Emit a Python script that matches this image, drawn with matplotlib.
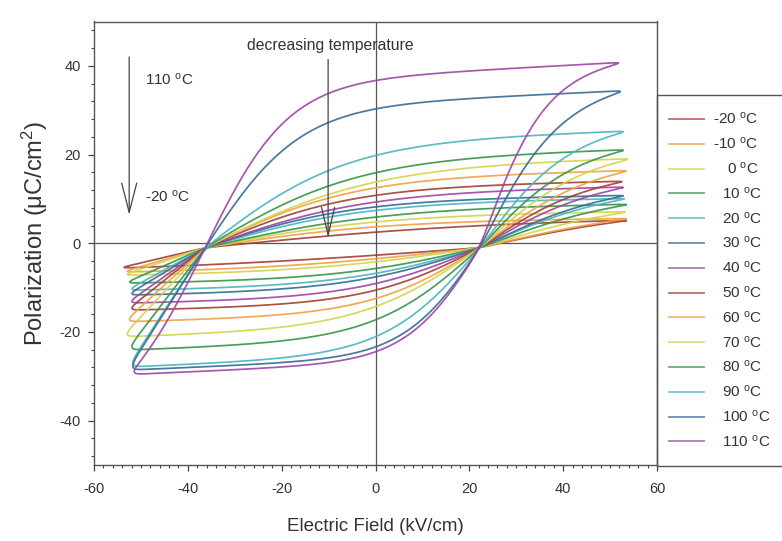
import numpy as np
import matplotlib
matplotlib.use("Agg")
import matplotlib.pyplot as plt
from matplotlib.lines import Line2D
from matplotlib.patches import Rectangle
from matplotlib.ticker import MultipleLocator

plt.rcParams['font.family'] = ['Liberation Sans', 'DejaVu Sans']
plt.rcParams['mathtext.fontset'] = 'custom'
plt.rcParams['mathtext.rm'] = 'Liberation Sans'
plt.rcParams['mathtext.it'] = 'Liberation Sans:italic'
plt.rcParams['mathtext.bf'] = 'Liberation Sans:bold'
plt.rcParams['axes.unicode_minus'] = False

# ---- P-E hysteresis loops, one per measuring temperature ----
temperatures = [-20, -10, 0, 10, 20, 30, 40, 50, 60, 70, 80, 90, 100, 110]
# field at the positive / negative turning points (kV/cm)
e_max = [54.5, 54.5, 54.2, 54.5, 54.0, 53.8, 53.8, 53.5, 54.4, 54.8, 53.8, 53.8, 53.2, 52.8]
e_min = [-54.7, -54.0, -54.0, -53.5, -53.0, -53.0, -53.0, -53.0, -53.5, -54.0, -53.0, -52.8, -52.8, -52.5]
# polarization at the turning points (uC/cm2)
p_max = [5.2, 5.6, 7.1, 8.8, 10.1, 10.8, 12.7, 14.0, 16.4, 19.1, 21.1, 25.3, 34.4, 40.8]
p_min = [-5.6, -6.5, -7.2, -9.0, -10.6, -11.7, -13.5, -15.1, -17.7, -21.1, -24.1, -27.9, -28.6, -29.6]
# polarization at zero field on the falling and on the rising branch
pr_fall = [2.5, 3.7, 4.8, 5.9, 7.4, 8.2, 9.3, 10.8, 12.5, 13.8, 15.9, 19.8, 30.3, 36.7]
pr_rise = [-2.7, -3.5, -4.2, -5.7, -6.8, -7.6, -9.1, -10.6, -12.5, -14.3, -17.3, -21.1, -23.4, -24.5]
# steepness of the rising branch above its coercive field
k_rise = [0.9, 0.9, 1.0, 1.1, 1.2, 1.2, 1.3, 1.4, 1.4, 1.5, 1.6, 1.7, 1.85, 2.3]
# coercive fields where all branches cross, and the polarization there
ec_fall = -36.3
ec_rise = 22.3
p_cross = -1.0

palette = ['#A23E34', '#F0A040', '#D2D44A', '#379447', '#4AB4C0', '#356A94', '#9E44A6']

BETA = 0.12


def shaped(u, k):
    k = max(k, 1e-3)
    return (1 - BETA) * np.tanh(k * u) / np.tanh(k) + BETA * u


def bisect(f, target, lo=1e-3, hi=30.0):
    for _ in range(80):
        mid = 0.5 * (lo + hi)
        if f(mid) < target:
            lo = mid
        else:
            hi = mid
    return 0.5 * (lo + hi)


def k_through(u0, ratio):
    target = (ratio - BETA * u0) / (1 - BETA)
    if target <= u0:
        return 1e-3
    if target >= 0.99999:
        return 30.0
    return bisect(lambda k: np.tanh(k * u0) / np.tanh(k), target)


def k_for_slope(g):
    if g <= 1.0:
        return 1e-3
    return bisect(lambda k: (1 - BETA) * k / np.tanh(k) + BETA, g)


def smooth_closed(x, sigma):
    m = int(4 * sigma)
    kern = np.exp(-0.5 * (np.arange(-m, m + 1) / sigma) ** 2)
    kern /= kern.sum()
    xp = np.concatenate([x[-m:], x, x[:m]])
    return np.convolve(xp, kern, mode='valid')


def loop(i):
    ep, en, pp, pn = e_max[i], e_min[i], p_max[i], p_min[i]
    n = 700
    # falling branch: +E_max -> E_min
    ef = np.linspace(ep, en, n)
    ka = k_through((0 - ec_fall) / (ep - ec_fall), (pr_fall[i] - p_cross) / (pp - p_cross))
    s_right = (pp - p_cross) / (ep - ec_fall) * ((1 - BETA) * ka / np.tanh(ka) + BETA)
    kb = k_for_slope(s_right / ((pn - p_cross) / (en - ec_fall)))
    pf = np.where(ef >= ec_fall,
                  p_cross + (pp - p_cross) * shaped((ef - ec_fall) / (ep - ec_fall), ka),
                  p_cross + (pn - p_cross) * shaped((ef - ec_fall) / (en - ec_fall), kb))
    # rising branch: E_min -> +E_max
    er = np.linspace(en, ep, n)
    kc = k_through((ec_rise - 0) / (ec_rise - en), (pr_rise[i] - p_cross) / (pn - p_cross))
    pr = np.where(er < ec_rise,
                  p_cross + (pn - p_cross) * shaped((ec_rise - er) / (ec_rise - en), kc),
                  p_cross + (pp - p_cross) * shaped((er - ec_rise) / (ep - ec_rise), k_rise[i]))
    E = np.concatenate([ef, er[1:-1]])
    P = np.concatenate([pf, pr[1:-1]])
    E = smooth_closed(E, 9)
    P = smooth_closed(P, 9)
    return np.append(E, E[0]), np.append(P, P[0])


fig = plt.figure(figsize=(7.82, 5.41), dpi=100)
ax = fig.add_axes([94 / 782, 1 - 465 / 541, (657 - 94) / 782, (465 - 21.5) / 541])

ax.axhline(0, color='#555555', lw=0.9, zorder=1)
ax.axvline(0, color='#555555', lw=0.9, zorder=1)

for i, t in enumerate(temperatures):
    E, P = loop(i)
    ax.plot(E, P, color=palette[i % 7], lw=1.25, alpha=0.9, zorder=2)

ax.set_xlim(-60, 60)
ax.set_ylim(-50, 50)
ax.set_xticks(range(-60, 61, 20))
ax.set_yticks(range(-40, 41, 20))
ax.xaxis.set_minor_locator(MultipleLocator(2))
ax.yaxis.set_minor_locator(MultipleLocator(4))
ax.tick_params(which='major', direction='out', length=4.5, width=0.9, color='#444444',
               labelsize=10.5, labelcolor='#333333', top=False, right=False)
ax.tick_params(axis='x', which='major', pad=8)
ax.tick_params(axis='y', which='major', pad=5)
ax.tick_params(which='minor', direction='out', length=2.3, width=0.8, color='#444444',
               top=False, right=False)
for s in ax.spines.values():
    s.set_color('#555555')
    s.set_linewidth(1.0)

ax.set_xlabel('Electric Field (kV/cm)', fontsize=13.5, color='#333333', labelpad=15.5)
ax.set_ylabel('Polarization (\u03bcC/cm$^2$)', fontsize=17, color='#333333')
ax.yaxis.set_label_coords(-0.078, 0.523)

# annotations
ax.text(-9.7, 44.7, 'decreasing temperature', ha='center', va='center',
        fontsize=11.3, color='#333333')
ax.annotate('', xy=(-10.1, 1.2), xytext=(-10.1, 41.4),
            arrowprops=dict(arrowstyle='->,head_length=2.0,head_width=0.47',
                            color='#444444', lw=0.9, shrinkA=0, shrinkB=0))
ax.annotate('', xy=(-52.5, 6.4), xytext=(-52.5, 42.0),
            arrowprops=dict(arrowstyle='->,head_length=2.1,head_width=0.54',
                            color='#444444', lw=0.9, shrinkA=0, shrinkB=0))
ax.text(-49.1, 36.8, '110 $^{\\mathrm{o}}$C', ha='left', va='center', fontsize=11, color='#333333')
ax.text(-49.1, 10.5, '-20 $^{\\mathrm{o}}$C', ha='left', va='center', fontsize=11, color='#333333')

# legend box at the right
W, H = 782.0, 541.0
fig.add_artist(Rectangle((657 / W, 1 - 466 / H), 200 / W, (466 - 95) / H,
                         transform=fig.transFigure, fill=False,
                         edgecolor='#555555', lw=1.0, clip_on=False))
for i, t in enumerate(temperatures):
    yy = 1 - (119 + i * 24.8) / H
    fig.add_artist(Line2D([669 / W, 704 / W], [yy, yy], transform=fig.transFigure,
                          color=palette[i % 7], lw=1.3, alpha=0.75))
    label = str(t)
    xt = 722
    if label.startswith('-'):
        xt = 713
    elif label == '0':
        xt = 727
    fig.text(xt / W, yy, label + ' $^{\\mathrm{o}}$C', ha='left', va='center',
             fontsize=11, color='#333333')

fig.savefig('out.png', dpi=100, facecolor='white')
